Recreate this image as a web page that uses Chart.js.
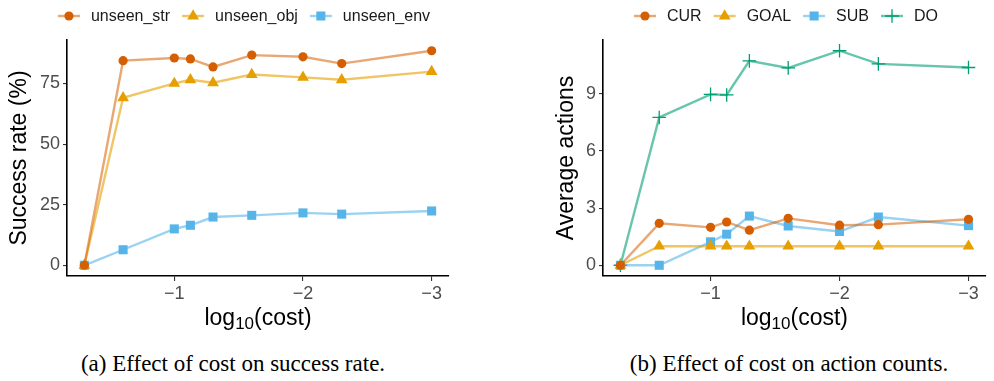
<!DOCTYPE html>
<html>
<head>
<meta charset="utf-8">
<script src="https://cdn.jsdelivr.net/npm/chart.js@4.4.1/dist/chart.umd.min.js"></script>
<style>
  html, body { margin: 0; padding: 0; background: #fff; }
  body { width: 994px; height: 381px; position: relative; overflow: hidden; }
  canvas { position: absolute; top: 0; }
  #c1 { left: 0px; }
  #c2 { left: 500px; }
  .cap { position: absolute; top: 352px; font-family: "Liberation Serif", "Times New Roman", serif; font-size: 23px; line-height: 24px; color: #000; white-space: nowrap; transform: translateX(-50%); }
</style>
</head>
<body>
<canvas id="c1" width="470" height="345" style="width:470px;height:345px"></canvas>
<canvas id="c2" width="494" height="345" style="width:494px;height:345px"></canvas>
<div class="cap" style="left:233px">(a) Effect of cost on success rate.</div>
<div class="cap" style="left:789px">(b) Effect of cost on action counts.</div>
<script>
// ---- data ----
const logCost = [-0.301, -0.602, -1, -1.125, -1.301, -1.602, -2, -2.301, -3];
const xTicks = [-1, -2, -3];

const unseenStr = [0, 84.4, 85.5, 85.1, 81.8, 86.7, 86.0, 83.2, 88.5];
const unseenObj = [0, 69.1, 75.0, 76.5, 75.3, 78.7, 77.5, 76.5, 79.9];
const unseenEnv = [0, 6.4, 15.0, 16.5, 19.9, 20.6, 21.6, 21.1, 22.4];
const successTicks = [0, 25, 50, 75];

const curVals  = [0, 2.20, 1.99, 2.27, 1.84, 2.46, 2.10, 2.13, 2.41];
const goalVals = [0, 1, 1, 1, 1, 1, 1, 1, 1];
const subVals  = [0, 0, 1.23, 1.63, 2.58, 2.06, 1.77, 2.53, 2.08];
const doVals   = [0, 7.75, 8.96, 8.93, 10.72, 10.35, 11.25, 10.56, 10.37];
const actionTicks = [0, 3, 6, 9];

const FONT = "'Liberation Sans', Arial, Helvetica, sans-serif";

function pts(vals) { return vals.map((v, i) => ({ x: logCost[i], y: v })); }

const styles = {
  orange: { line: 'rgba(213,94,0,0.55)', pt: '#D55E00', shape: 'circle', r: 4.6 },
  yellow: { line: 'rgba(230,159,0,0.6)', pt: '#E69F00', shape: 'triangle', r: 6.8 },
  blue:   { line: 'rgba(86,180,233,0.6)', pt: '#56B4E9', shape: 'rect', r: 6.4 },
  green:  { line: 'rgba(0,158,115,0.6)', pt: '#009E73', shape: 'cross', r: 6.8 }
};

function ds(label, vals, st) {
  const isCross = st.shape === 'cross';
  return {
    label: label,
    data: pts(vals),
    borderColor: st.line,
    borderWidth: 2.4,
    backgroundColor: st.pt,
    pointStyle: st.shape,
    pointRadius: st.r,
    pointHoverRadius: st.r,
    pointBackgroundColor: st.pt,
    pointBorderColor: st.pt,
    pointBorderWidth: isCross ? 1.3 : 0,
    tension: 0,
    fill: false
  };
}

// custom legend (line + marker glyph, like ggplot)
const ggLegend = {
  id: 'ggLegend',
  afterDraw(chart, args, opts) {
    const ctx = chart.ctx;
    ctx.save();
    ctx.font = '16px ' + FONT;
    ctx.textBaseline = 'middle';
    const glyphW = 22, gapText = 11, gapItem = 12;
    const items = chart.data.datasets.map(d => ({ d, w: ctx.measureText(d.label).width }));
    let total = 0;
    items.forEach((it, i) => { total += glyphW + gapText + it.w + (i < items.length - 1 ? gapItem : 0); });
    let x = opts.centerX - total / 2;
    const y = opts.y;
    items.forEach(it => {
      const d = it.d;
      ctx.strokeStyle = d.borderColor;
      ctx.lineWidth = d.borderWidth;
      ctx.beginPath(); ctx.moveTo(x, y); ctx.lineTo(x + glyphW, y); ctx.stroke();
      ctx.fillStyle = d.pointBackgroundColor;
      ctx.strokeStyle = d.pointBorderColor;
      ctx.lineWidth = d.pointBorderWidth;
      Chart.helpers.drawPoint(ctx, { pointStyle: d.pointStyle, radius: d.pointRadius, borderWidth: d.pointBorderWidth, rotation: 0 }, x + glyphW / 2, y);
      ctx.fillStyle = '#1a1a1a';
      ctx.textAlign = 'left';
      ctx.fillText(d.label, x + glyphW + gapText, y + 1);
      x += glyphW + gapText + it.w + gapItem;
    });
    ctx.restore();
  }
};

// x-axis title with subscript: log10(cost)
const xTitle = {
  id: 'xTitle',
  afterDraw(chart, args, opts) {
    const ctx = chart.ctx;
    const ca = chart.chartArea;
    ctx.save();
    ctx.fillStyle = '#000';
    ctx.textBaseline = 'alphabetic';
    ctx.textAlign = 'left';
    const big = '23px ' + FONT, small = '17px ' + FONT;
    ctx.font = big; const w1 = ctx.measureText('log').width; const w3 = ctx.measureText('(cost)').width;
    ctx.font = small; const w2 = ctx.measureText('10').width;
    let x = (ca.left + ca.right) / 2 - (w1 + w2 + w3) / 2;
    const y = opts.y;
    ctx.font = big; ctx.fillText('log', x, y); x += w1;
    ctx.font = small; ctx.fillText('10', x, y + 4); x += w2;
    ctx.font = big; ctx.fillText('(cost)', x, y);
    ctx.restore();
  }
};

function makeChart(id, datasets, yMin, yMax, yTicks, yTitle, padLeft, padRight, yWidth, legendX) {
  return new Chart(document.getElementById(id), {
    type: 'line',
    data: { datasets },
    plugins: [ggLegend, xTitle],
    options: {
      responsive: false,
      animation: false,
      events: [],
      layout: { padding: { top: 40, left: padLeft, right: padRight, bottom: 0 } },
      plugins: {
        legend: { display: false },
        tooltip: { enabled: false },
        ggLegend: { centerX: legendX, y: 16 },
        xTitle: { y: 325 }
      },
      scales: {
        x: {
          type: 'linear',
          reverse: true,
          min: -3.135,
          max: -0.166,
          afterBuildTicks: s => { s.ticks = xTicks.map(v => ({ value: v })); },
          afterFit: s => { s.height = 69; },
          ticks: {
            color: '#4d4d4d',
            font: { family: FONT, size: 18 },
            padding: 2,
            maxRotation: 0,
            callback: v => (v < 0 ? '\u2212' : '') + Math.abs(v)
          },
          grid: { drawOnChartArea: false, drawTicks: true, tickLength: 5, color: '#333333', lineWidth: 1.1 },
          border: { display: true, color: '#000', width: 1.6 }
        },
        y: {
          type: 'linear',
          min: yMin,
          max: yMax,
          afterBuildTicks: s => { s.ticks = yTicks.map(v => ({ value: v })); },
          afterFit: s => { s.width = yWidth; },
          ticks: {
            color: '#4d4d4d',
            font: { family: FONT, size: 18 },
            padding: 3,
            callback: v => String(v)
          },
          title: {
            display: true,
            text: yTitle,
            color: '#000',
            font: { family: FONT, size: 23 },
            padding: { top: 6, bottom: 0 }
          },
          grid: { drawOnChartArea: false, drawTicks: true, tickLength: 4, color: '#333333', lineWidth: 1.1 },
          border: { display: true, color: '#000', width: 1.6 }
        }
      }
    }
  });
}

makeChart('c1', [
  ds('unseen_str', unseenStr, styles.orange),
  ds('unseen_obj', unseenObj, styles.yellow),
  ds('unseen_env', unseenEnv, styles.blue)
], -4.425, 92.925, successTicks, 'Success rate (%)', 0, 21, 67, 244);

makeChart('c2', [
  ds('CUR', curVals, styles.orange),
  ds('GOAL', goalVals, styles.yellow),
  ds('SUB', subVals, styles.blue),
  ds('DO', doVals, styles.green)
], -0.5625, 11.8125, actionTicks, 'Average actions', 47, 1, 56, 286);
</script>
</body>
</html>
